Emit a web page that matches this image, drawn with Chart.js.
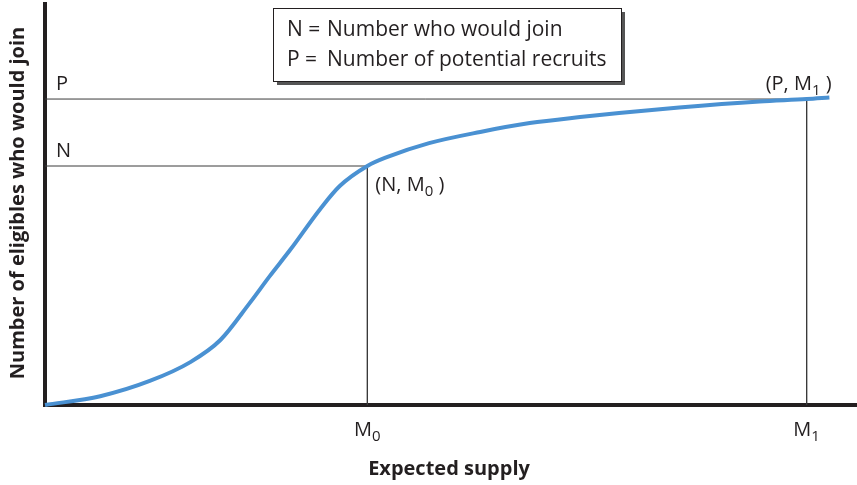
<!DOCTYPE html>
<html>
<head>
<meta charset="utf-8">
<script src="https://cdn.jsdelivr.net/npm/chart.js@4.4.1/dist/chart.umd.min.js"></script>
<style>
  html, body { margin: 0; padding: 0; background: #fff; }
  #wrap { width: 857px; height: 485px; }
</style>
</head>
<body>
<div id="wrap"><canvas id="supplyChart"></canvas></div>
<script>
// valori (unita' arbitrarie 0-100)
const supplyX = [0, 6.8, 12.9, 17.9, 21.6, 25.2, 27.7, 30.2, 33.9, 36.3, 39.7, 42.1, 47.3, 53.6, 59.7, 65.9, 70.7, 78.1, 88.0, 93.8, 96.6];
const joinY   = [0, 2.2, 6.0, 10.7, 16.2, 25.4, 32.2, 38.7, 48.9, 54.6, 59.6, 61.8, 65.3, 68.1, 70.3, 71.8, 72.8, 74.2, 75.7, 76.3, 76.7];
const xTickLabels = ['M', 'M'];
const xTickSubs = ['0', '1'];
const M0 = 39.7, M1 = 93.8;
const N = 59.6, P = 76.3;
const legendLines = [['N = ', 'Number who would join'], ['P = ', 'Number of potential recruits']];

const ink = '#231f20';
const font = '"Open Sans", "Noto Sans", sans-serif';

const curve = supplyX.map((x, i) => ({ x: x, y: joinY[i] }));

const textPlugin = {
    id: 'textPlugin',
    afterDraw(chart) {
        const c = chart.ctx;
        const xs = chart.scales.x, ys = chart.scales.y;
        c.save();
        c.fillStyle = ink;

        // etichette M0, M1
        [M0, M1].forEach((v, i) => {
            const px = xs.getPixelForValue(v);
            c.font = '20px ' + font;
            c.textBaseline = 'alphabetic';
            const w1 = c.measureText(xTickLabels[i]).width;
            c.font = '15px ' + font;
            const w2 = c.measureText(xTickSubs[i]).width;
            const left = px - (w1 + w2) / 2;
            c.font = '20px ' + font;
            c.textAlign = 'left';
            c.fillText(xTickLabels[i], left, 436);
            c.font = '15px ' + font;
            c.fillText(xTickSubs[i], left + w1, 441);
        });

        // titoli assi
        c.font = 'bold 20px ' + font;
        c.textAlign = 'center';
        c.fillText('Expected supply', 449, 475);
        c.save();
        c.translate(24, 203);
        c.rotate(-Math.PI / 2);
        c.font = 'bold 20px ' + font;
        c.fillText('Number of eligibles who would join', 0, 0);
        c.restore();

        // P e N sull'asse
        c.font = '20px ' + font;
        c.textAlign = 'left';
        c.fillText('P', 56, ys.getPixelForValue(P) - 9);
        c.fillText('N', 56, ys.getPixelForValue(N) - 9);

        // punti (N, M0) e (P, M1)
        const pt = (x, y, a, b) => {
            c.font = '20px ' + font;
            c.fillText(a, x, y);
            let w = c.measureText(a).width;
            c.font = '15px ' + font;
            c.fillText(b, x + w, y + 5);
            w += c.measureText(b).width;
            c.font = '20px ' + font;
            c.fillText(' )', x + w, y);
        };
        pt(xs.getPixelForValue(M0) + 8, ys.getPixelForValue(N) + 25, '(N, M', '0');
        pt(xs.getPixelForValue(M1) - 41, ys.getPixelForValue(P) - 9, '(P, M', '1');

        // riquadro legenda
        const bx = 273, by = 8, bw = 348, bh = 73;
        c.fillStyle = '#555';
        c.fillRect(bx + 4, by + 4, bw, bh);
        c.fillStyle = '#fff';
        c.fillRect(bx, by, bw, bh);
        c.strokeStyle = ink;
        c.lineWidth = 1;
        c.strokeRect(bx + 0.5, by + 0.5, bw, bh);
        c.fillStyle = ink;
        c.font = '21px ' + font;
        legendLines.forEach((l, i) => {
            const y = by + 28 + i * 30;
            c.fillText(l[0], bx + 14, y);
            c.fillText(l[1], bx + 54, y);
        });
        c.restore();
    }
};

const chart = new Chart(document.getElementById('supplyChart'), {
    type: 'scatter',
    data: {
        datasets: [
            {
                data: curve,
                showLine: true,
                borderColor: 'rgb(74, 145, 210)',
                borderWidth: 4,
                pointRadius: 0,
                cubicInterpolationMode: 'monotone',
                clip: false,
                order: 0
            },
            {
                data: [{ x: 0, y: N }, { x: M0, y: N }, { x: M0, y: 0 }],
                showLine: true,
                borderColor: '#3a3a3a',
                borderWidth: 1,
                pointRadius: 0,
                order: 1
            },
            {
                data: [{ x: 0, y: P }, { x: M1, y: P }, { x: M1, y: 0 }],
                showLine: true,
                borderColor: '#3a3a3a',
                borderWidth: 1,
                pointRadius: 0,
                order: 1
            }
        ]
    },
    options: {
        responsive: true,
        maintainAspectRatio: false,
        animation: false,
        layout: { padding: { left: 45, top: 4, right: 0, bottom: 80 } },
        plugins: { legend: { display: false }, tooltip: { enabled: false } },
        scales: {
            x: {
                type: 'linear', min: 0, max: 100,
                grid: { display: false, drawTicks: false },
                ticks: { display: false },
                border: { display: true, color: ink, width: 4 }
            },
            y: {
                type: 'linear', min: 0, max: 100,
                grid: { display: false, drawTicks: false },
                ticks: { display: false },
                border: { display: true, color: ink, width: 4 }
            }
        }
    },
    plugins: [textPlugin]
});
</script>
</body>
</html>
